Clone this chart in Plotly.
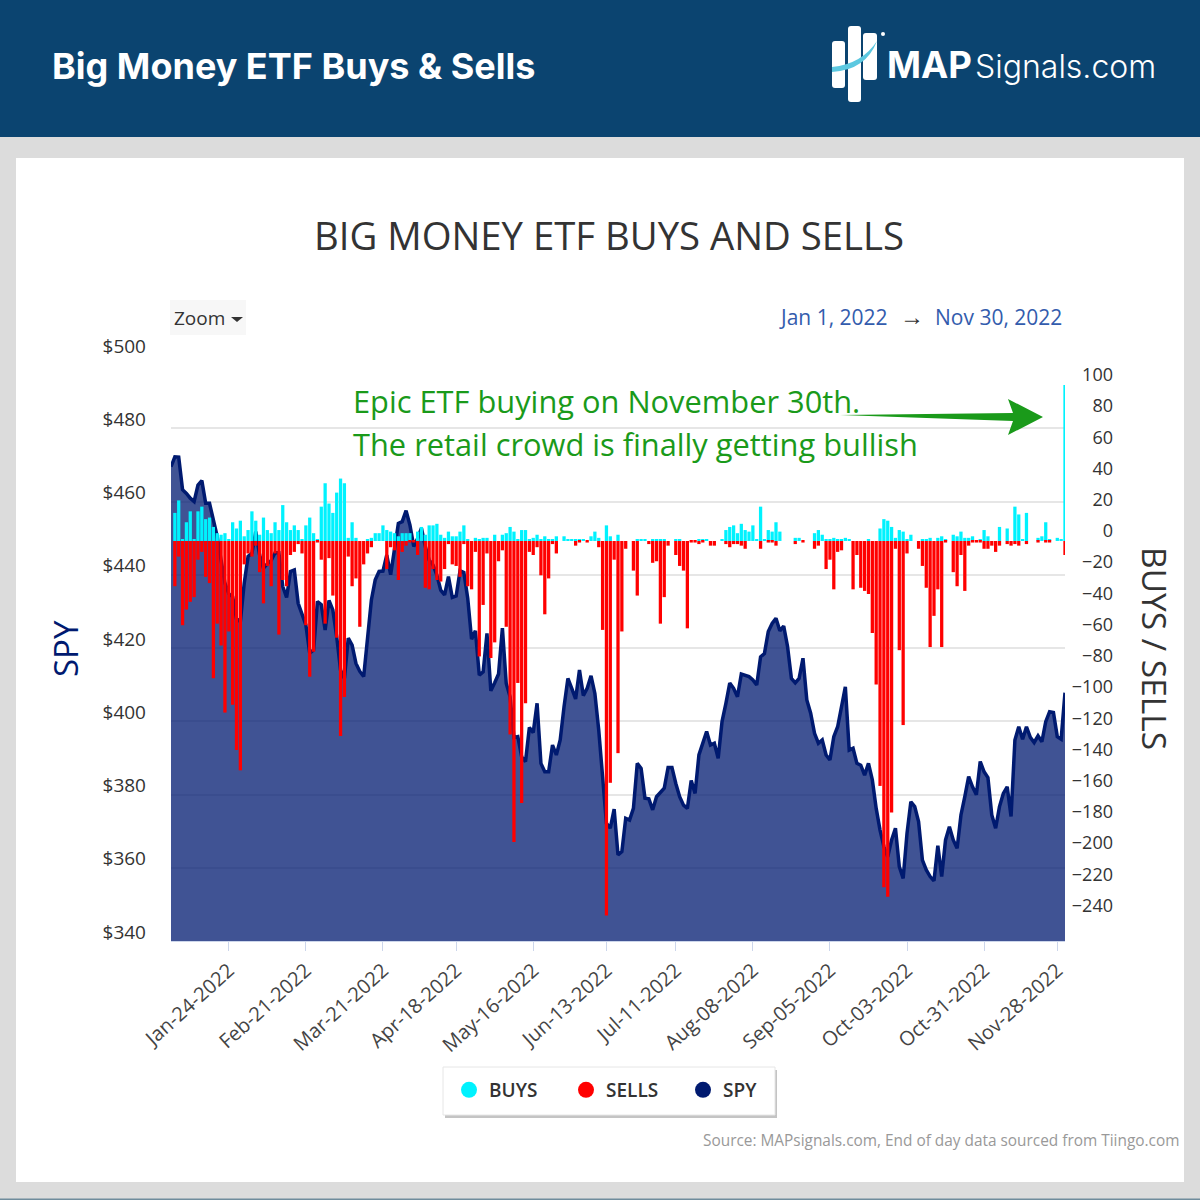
import pandas as pd
import plotly.graph_objects as go

# trading days shown on the chart (a few market holidays stay in the feed)
closed = ["2022-04-15", "2022-05-30", "2022-06-20", "2022-07-04", "2022-11-24"]
days = [d for d in pd.bdate_range("2022-01-03", "2022-11-30") if d.strftime("%Y-%m-%d") not in closed]
dates = [d.strftime("%b-%d-%Y") for d in days]

tick_dates = ["Jan-24-2022", "Feb-21-2022", "Mar-21-2022", "Apr-18-2022", "May-16-2022", "Jun-13-2022",
              "Jul-11-2022", "Aug-08-2022", "Sep-05-2022", "Oct-03-2022", "Oct-31-2022", "Nov-28-2022"]
spy_ticks = [340, 360, 380, 400, 420, 440, 460, 480, 500]
spy_labels = ["$340", "$360", "$380", "$400", "$420", "$440", "$460", "$480", "$500"]
flow_ticks = [-240, -220, -200, -180, -160, -140, -120, -100, -80, -60, -40, -20, 0, 20, 40, 60, 80, 100]

spy = [
    469.5, 472.2, 472.1, 463.2, 462.2, 460.9, 460.0, 464.5, 465.7, 459.5,
    459.5, 455.0, 450.4, 444.0, 437.7, 434.8, 434.0, 428.0, 427.2, 437.7,
    445.0, 445.9, 451.8, 445.4, 441.8, 443.0, 443.9, 446.0, 446.0, 436.8,
    433.8, 440.9, 441.3, 432.2, 429.5, 426.3, 418.6, 419.5, 432.7, 431.8,
    424.9, 433.0, 430.4, 423.1, 414.0, 411.7, 422.7, 420.8, 415.8, 413.6,
    412.2, 424.0, 433.1, 438.6, 440.9, 441.0, 445.4, 440.0, 447.2, 454.0,
    454.5, 457.5, 453.6, 447.7, 449.9, 452.7, 447.7, 444.0, 442.7, 439.9,
    435.8, 434.5, 439.5, 433.8, 434.2, 441.1, 440.6, 433.6, 422.4, 424.7,
    412.6, 413.5, 424.0, 408.3, 410.5, 412.9, 425.4, 410.3, 406.7, 395.6,
    395.8, 390.3, 389.0, 398.3, 396.9, 404.9, 388.5, 386.2, 386.2, 393.5,
    390.8, 394.9, 404.0, 411.7, 409.0, 406.1, 414.0, 407.0, 409.0, 412.4,
    407.6, 397.6, 384.9, 372.1, 370.8, 376.0, 363.5, 364.4, 373.5, 373.0,
    376.2, 388.5, 387.1, 379.0, 378.8, 375.8, 379.4, 380.5, 381.7, 387.4,
    387.4, 383.0, 379.4, 377.1, 376.2, 383.8, 380.3, 390.8, 394.0, 397.2,
    393.5, 394.0, 389.9, 399.9, 404.9, 410.4, 409.0, 406.7, 412.9, 412.6,
    412.2, 411.3, 409.9, 417.6, 418.5, 424.5, 426.7, 428.1, 424.7, 426.0,
    420.4, 411.7, 410.5, 411.7, 417.2, 405.8, 402.2, 396.7, 394.0, 394.9,
    390.8, 389.4, 395.8, 398.5, 403.5, 409.4, 392.1, 392.6, 388.5, 388.0,
    385.3, 388.5, 384.0, 376.2, 370.3, 365.8, 363.0, 367.6, 370.8, 360.3,
    357.1, 369.4, 378.0, 376.7, 372.6, 362.1, 359.4, 357.6, 356.4, 366.0,
    357.6, 367.6, 371.2, 367.6, 365.3, 374.4, 379.4, 384.9, 382.1, 379.9,
    389.0, 386.2, 384.6, 374.4, 370.8, 376.7, 380.3, 382.1, 374.0, 394.9,
    398.5, 395.1, 398.5, 395.6, 394.2, 396.0, 394.4, 399.9, 402.6, 402.4,
    395.8, 395.1, 407.8,
]

buys = [
    0, 18, 26, 1, 12, 19, 1, 19, 22, 14,
    15, 9, 5, 4, 5, 1, 12, 8, 13, 3,
    7, 19, 13, 4, 15, 7, 5, 12, 7, 23,
    12, 7, 10, 7, 1, 10, 15, 5, 1, 22,
    37, 24, 18, 31, 40, 37, 2, 12, 2, 0,
    0, 1, 2, 5, 5, 10, 7, 6, 5, 3,
    5, 5, 5, 0, 6, 9, 4, 10, 10, 11,
    4, 2, 6, 3, 3, 6, 10, 1, 0, 2,
    1, 2, 2, 0, 4, 0, 4, 5, 9, 6,
    1, 7, 7, 1, 2, 4, 1, 3, 1, 1,
    3, 0, 3, 1, 1, 1, 1, 1, 0, 3,
    6, 2, 0, 10, 3, 0, 4, 0, 0, 0,
    0, 1, 1, 1, 0, 1, 1, 1, 1, 0,
    0, 1, 1, 0, 0, 0, 0, 1, 1, 1,
    0, 0, 0, 1, 7, 9, 10, 5, 11, 7,
    6, 10, 1, 22, 1, 7, 6, 12, 6, 0,
    0, 0, 2, 2, 0, 0, 0, 5, 7, 4,
    1, 1, 2, 1, 1, 2, 1, 0, 0, 0,
    0, 1, 0, 0, 8, 14, 13, 9, 2, 7,
    6, 1, 4, 0, 0, 1, 1, 2, 0, 2,
    3, 1, 0, 4, 3, 6, 2, 2, 3, 0,
    1, 7, 3, 0, 0, 9, 0, 8, 0, 22,
    17, 1, 18, 0, 0, 2, 3, 12, 1, 0,
    2, 1, 100,
]

sells = [
    0, -29, -10, -54, -44, -39, -36, -12, -7, -23,
    -27, -88, -53, -67, -110, -58, -105, -134, -147, -15,
    -8, -10, -3, -20, -40, -16, -29, -8, -60, -25,
    -29, -9, -7, -2, -8, -54, -87, -71, -1, -12,
    -53, -11, -35, -62, -125, -100, -10, -29, -24, -55,
    -15, -8, -4, 0, 0, 0, -18, -4, -6, -25,
    -7, -3, -1, -1, -9, 0, -30, -31, -18, -25,
    -26, -18, -2, -15, -16, -23, -2, -29, -31, -7,
    -74, -41, -8, -75, -65, -13, -6, -55, -124, -193,
    -91, -168, -104, -7, -9, -4, -22, -47, -24, -2,
    -8, 0, 0, 0, 0, -3, -1, 0, -1, 0,
    0, -4, -57, -240, -155, -12, -136, -58, -5, 0,
    -19, -35, 0, 0, -2, -14, -13, -53, -36, -3,
    0, -9, -16, -19, -56, -1, -1, -2, -1, 0,
    -3, -3, 0, 0, -2, -4, -2, -2, -3, -5,
    0, 0, 0, -5, 0, -1, -1, -3, 0, 0,
    0, 0, -2, 0, -1, 0, 0, -5, -3, 0,
    -18, -12, -31, -7, -6, 0, 0, -31, -9, -30,
    -32, -34, -59, -92, -157, -222, -228, -174, -5, -70,
    -118, -8, 0, 0, -5, -16, -30, -68, -48, -31,
    -68, -1, 0, -20, -29, -9, -32, -3, -1, -1,
    -1, -5, -5, -3, -7, -3, 0, -2, -3, -2,
    -3, 0, -2, 0, 0, -1, 0, -1, -1, 0,
    0, 0, -9,
]

assert len(dates) == len(spy) == len(buys) == len(sells)


def px(x):
    return x / 1200


def py(y):
    return 1 - y / 1200


def rounded(x0, y0, x1, y1, r):
    # rounded bar of the logo, in paper coordinates
    return (f"M {px(x0 + r)} {py(y0)} L {px(x1 - r)} {py(y0)} Q {px(x1)} {py(y0)} {px(x1)} {py(y0 + r)} "
            f"L {px(x1)} {py(y1 - r)} Q {px(x1)} {py(y1)} {px(x1 - r)} {py(y1)} "
            f"L {px(x0 + r)} {py(y1)} Q {px(x0)} {py(y1)} {px(x0)} {py(y1 - r)} "
            f"L {px(x0)} {py(y0 + r)} Q {px(x0)} {py(y0)} {px(x0 + r)} {py(y0)} Z")


def box(x0, y0, x1, y1, color, line=None, layer="below"):
    return dict(type="rect", xref="paper", yref="paper", x0=px(x0), x1=px(x1), y0=py(y1), y1=py(y0),
                fillcolor=color, line=dict(width=1 if line else 0, color=line or color), layer=layer)


def poly(points, color):
    path = "M " + " L ".join(f"{px(a)} {py(b)}" for a, b in points) + " Z"
    return dict(type="path", xref="paper", yref="paper", path=path, fillcolor=color, line=dict(width=0), layer="above")


def label(x, y, text, size, color, font="Open Sans", anchor="left", weight=400, angle=0):
    return dict(xref="paper", yref="paper", x=px(x), y=py(y), text=text, showarrow=False, xanchor=anchor,
                yanchor="middle", textangle=angle, font=dict(family=font, size=size, color=color, weight=weight))


fig = go.Figure()

fig.add_trace(go.Scatter(x=dates, y=spy, mode="lines", line=dict(color="#001a70", width=3.5),
                         fill="tozeroy", fillcolor="rgba(0,26,112,0.75)", yaxis="y", showlegend=False))
fig.add_trace(go.Bar(x=dates, y=buys, marker=dict(color="#00f2fe", line=dict(width=0)), width=0.85, yaxis="y2", showlegend=False))
fig.add_trace(go.Bar(x=dates, y=sells, marker=dict(color="#ff0000", line=dict(width=0)), width=0.85, yaxis="y2", showlegend=False))

# legend wants circles, the bars would give squares
for name, color in [("BUYS", "#00f2fe"), ("SELLS", "#ff0000"), ("SPY", "#001a70")]:
    fig.add_trace(go.Scatter(x=[None], y=[None], mode="markers", name=name,
                             marker=dict(color=color, size=19, symbol="circle"), yaxis="y"))

shapes = [
    box(0, 0, 1200, 1200, "#dcdcdc"),
    box(0, 1198.5, 1200, 1200, "#6f8c9c"),
    box(0, 0, 1200, 137, "#0b4470"),
    box(16, 158, 1184, 1182, "#ffffff"),
    box(445, 1070, 777, 1118, "#c4c4c4"),
    box(443, 1067, 775, 1115, "#ffffff", "#e6e6e6"),
    box(170, 300, 246, 335, "#f7f7f7"),
    poly([(231, 317), (243, 317), (237, 322)], "#333333"),
    # logo
    dict(type="path", xref="paper", yref="paper", path=rounded(832, 41, 845, 88, 3), fillcolor="#ffffff", line=dict(width=0), layer="above"),
    dict(type="path", xref="paper", yref="paper", path=rounded(848, 26, 861, 102, 3), fillcolor="#ffffff", line=dict(width=0), layer="above"),
    dict(type="path", xref="paper", yref="paper", path=rounded(863, 33, 877, 80, 3), fillcolor="#ffffff", line=dict(width=0), layer="above"),
    dict(type="path", xref="paper", yref="paper", layer="above", fillcolor="#5cc8e0", line=dict(width=0),
         path=f"M {px(832)} {py(67)} Q {px(862)} {py(64)} {px(877)} {py(41)} Q {px(866)} {py(70)} {px(832)} {py(72)} Z"),
    dict(type="circle", xref="paper", yref="paper", x0=px(881), x1=px(885), y0=py(36), y1=py(32),
         fillcolor="#ffffff", line=dict(width=0), layer="above"),
    # green arrow
    poly([(840, 415), (1013, 413), (1008, 399), (1043, 417), (1008, 435), (1013, 421)], "#1a9a1a"),
]

annotations = [
    label(50, 66, "Big Money ETF Buys &amp; Sells", 36, "#ffffff", font="Inter", weight=700),
    label(885, 65, "MAP", 36.5, "#ffffff", font="Inter", weight=700),
    label(973, 67, "Signals.com", 32, "#ffffff", font="Inter", weight=300),
    label(609, 235, "BIG MONEY ETF BUYS AND SELLS", 38.3, "#333333", anchor="center"),
    label(172, 318, "Zoom", 19, "#333333"),
    label(777, 317, "Jan 1, 2022", 21, "#335cad"),
    label(898, 316, "→", 24, "#333333"),
    label(933, 317, "Nov 30, 2022", 21, "#335cad"),
    label(351, 401, "Epic ETF buying on November 30th.", 30.8, "#1a9a1a"),
    label(351, 444, "The retail crowd is finally getting bullish", 30.8, "#1a9a1a"),
    label(65, 649, "SPY", 33, "#001a70", anchor="center", angle=-90),
    label(1155, 648, "BUYS / SELLS", 33.5, "#333333", anchor="center", angle=90),
    label(1181, 1140, "Source: MAPsignals.com, End of day data sourced from Tiingo.com", 15.4, "#999999", anchor="right"),
]

fig.update_layout(
    width=1200, height=1200, margin=dict(l=0, r=0, t=0, b=0, autoexpand=False),
    paper_bgcolor="#ffffff", plot_bgcolor="rgba(0,0,0,0)",
    barmode="overlay",
    font=dict(family="Open Sans", color="#333333"),
    shapes=shapes, annotations=annotations,
    legend=dict(orientation="h", x=px(449), y=py(1090), xanchor="left", yanchor="middle",
                bgcolor="rgba(0,0,0,0)", font=dict(family="Open Sans", size=19, color="#333333", weight=600),
                itemsizing="trace", itemclick=False, entrywidth=72, entrywidthmode="pixels"),
    xaxis=dict(domain=[px(171), px(1065)], type="category", categoryorder="array", categoryarray=dates,
               range=[0, len(dates) - 1], tickmode="array", tickvals=tick_dates, ticktext=tick_dates,
               tickangle=-42, ticks="outside", ticklen=9, tickcolor="#ccd6eb", showline=True, linecolor="#ccd6eb",
               showgrid=False, tickfont=dict(size=20, color="#444444"), anchor="y", automargin=False),
    yaxis=dict(domain=[py(941), py(355)], range=[340, 500], tickmode="array", tickvals=spy_ticks, ticktext=spy_labels,
               showgrid=True, gridcolor="#e6e6e6", gridwidth=2, zeroline=False, ticks="", ticklabelshift=-9,
               ticklabelstandoff=24, tickfont=dict(size=19, color="#333333"), anchor="x", automargin=False),
    yaxis2=dict(domain=[py(941), py(355)], range=[-256.4, 119.2], overlaying="y", side="left", anchor="free",
                position=px(1113), tickmode="array", tickvals=flow_ticks, showgrid=False, zeroline=False, ticks="",
                ticklabelshift=-10, tickfont=dict(size=18, color="#333333"), showline=False, automargin=False),
)

fig.write_html("out.html", post_script="document.body.style.margin='0';", config=dict(displayModeBar=False))
